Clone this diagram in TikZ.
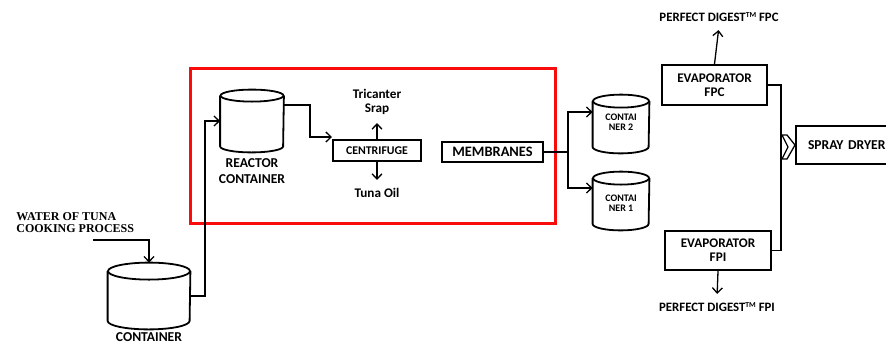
\documentclass[tikz,border=0pt]{standalone}
\usepackage{fontspec}
\setmainfont{Carlito}
\newfontfamily\serifcaps{Liberation Serif}
\usepackage{tikz}
\usetikzlibrary{arrows.meta,calc}
\definecolor{framered}{RGB}{248,12,12}

\tikzset{
  flow/.style={line width=0.65pt,-{Straight Barb[length=2.6pt,width=5pt]}},
  pipe/.style={line width=0.65pt},
  drumline/.style={line width=0.9pt},
  box/.style={draw,line width=1pt,align=center,inner sep=0pt,font=\bfseries},
  lbl/.style={align=center,inner sep=2pt,font=\bfseries},
}
\newcommand{\fs}[1]{\fontsize{#1}{#1}\selectfont}
% name, x, y, width, height, half height of the lid
\newcommand{\tankdrum}[6]{%
  \node[minimum width=#4,minimum height=#5,inner sep=0pt] (#1) at (#2,#3) {};
  \draw[drumline] ($(#1.north west)+(0pt,-#6)$) -- ($(#1.south west)+(0pt,#6)$)
    arc[start angle=180,end angle=360,x radius=#4/2,y radius=#6]
    -- ($(#1.north east)+(0pt,-#6)$);
  \draw[drumline] ($(#1.north)+(0pt,-#6)$) ellipse[x radius=#4/2,y radius=#6];
}

\begin{document}
\begin{tikzpicture}[x=0.5pt,y=-0.5pt]
\useasboundingbox (0,0) rectangle (886,343);
% red frame round the reactor stage
\draw[framered,line width=1.5pt] (190,68) rectangle (555,223);

% tanks
\tankdrum{tank}{149}{296}{41pt}{33pt}{4.25pt}
\node[lbl,font=\bfseries\fs{6.8}] (tanklbl) at (149,337) {CONTAINER};
\tankdrum{reactor}{252}{121}{31.5pt}{31pt}{3pt}
\node[lbl,font=\bfseries\fontsize{6.8}{7.6}\selectfont] (reactorlbl) at (252,171) {REACTOR\\CONTAINER};
\tankdrum{cont2}{621}{124}{28pt}{29pt}{3.25pt}
\node[lbl,font=\bfseries\fontsize{5}{5.2}\selectfont] at (621,122) {CONTAI\\NER 2};
\tankdrum{cont1}{621}{201}{28pt}{29pt}{3.25pt}
\node[lbl,font=\bfseries\fontsize{5}{5.2}\selectfont] at (621,203) {CONTAI\\NER 1};

% boxes
\node[box,minimum width=44pt,minimum height=10.5pt,font=\bfseries\fs{5.9}] (centrifuge) at (377,150.5) {CENTRIFUGE};
\node[box,minimum width=50.5pt,minimum height=10pt,font=\bfseries\fs{7.2}] (membranes) at (492.5,152) {MEMBRANES};
\node[box,minimum width=52.5pt,minimum height=20pt,font=\bfseries\fontsize{6.6}{7}\selectfont] (evfpc) at (714.5,85) {EVAPORATOR\\FPC};
\node[box,minimum width=53pt,minimum height=19.5pt,font=\bfseries\fontsize{6.6}{7}\selectfont] (evfpi) at (718,250.5) {EVAPORATOR\\FPI};
\node[box,anchor=west,align=left,text width=52pt,inner xsep=6pt,minimum height=19pt,font=\bfseries\fs{6.8}] (spray) at (795,145) {SPRAY DRYER};

% texts
\node[lbl,font=\bfseries\fontsize{6.6}{7}\selectfont] (tricanter) at (377,102) {Tricanter\\Srap};
\node[lbl,font=\bfseries\fs{6.6}] (oil) at (377,193) {Tuna Oil};
\node[lbl,font=\bfseries\fs{6.4}] (pdfpc) at (719,17) {PERFECT DIGEST\raisebox{2.2pt}{\fs{3.8}TM} FPC};
\node[lbl,font=\bfseries\fs{6.4}] (pdfpi) at (717,307) {PERFECT DIGEST\raisebox{2.2pt}{\fs{3.8}TM} FPI};
\node[lbl,anchor=west,align=left,font=\serifcaps\bfseries\fontsize{6}{5.6}\selectfont] (water) at (12,222.5) {WATER OF TUNA\\COOKING PROCESS};

% flows
\coordinate (wstart) at (93,240);
\coordinate (riser) at (205,0);
\coordinate (bend) at (310,120);
\coordinate (split) at (568,152);
\coordinate (merge) at (781,147);
\draw[flow] (wstart) -| (tank.north);
\draw[flow] (tank.east) -- (tank.east -| riser) -- (riser |- reactor.west) -- (reactor.west);
\draw[flow] ($(reactor.east)+(0,-16)$) -| (bend) |- ($(centrifuge.north west)+(0,-2)$);
\draw[flow,shorten >=2pt] (centrifuge.north) -- (tricanter.south);
\draw[flow,shorten >=2pt] (centrifuge.south) -- (oil.north);
\draw[pipe] (membranes.east) -- (split);
\draw[flow] (split) |- ($(cont2.west)+(0,-12)$);
\draw[flow] (split) |- ($(cont1.west)+(0,-13)$);
\draw[flow,shorten >=2pt] (evfpc.north) -- (pdfpc.south);
\draw[flow,shorten >=2pt] (evfpi.south) -- (pdfpi.north);
\draw[pipe] (evfpc.east) -| (merge);
\draw[pipe] (evfpi.east) -| (merge);
\draw[pipe,fill=white] (782,135) -- (787,135) -- (spray.west) -- (787,159) -- (782,159) -- (788,147) -- cycle;
\end{tikzpicture}
\end{document}
